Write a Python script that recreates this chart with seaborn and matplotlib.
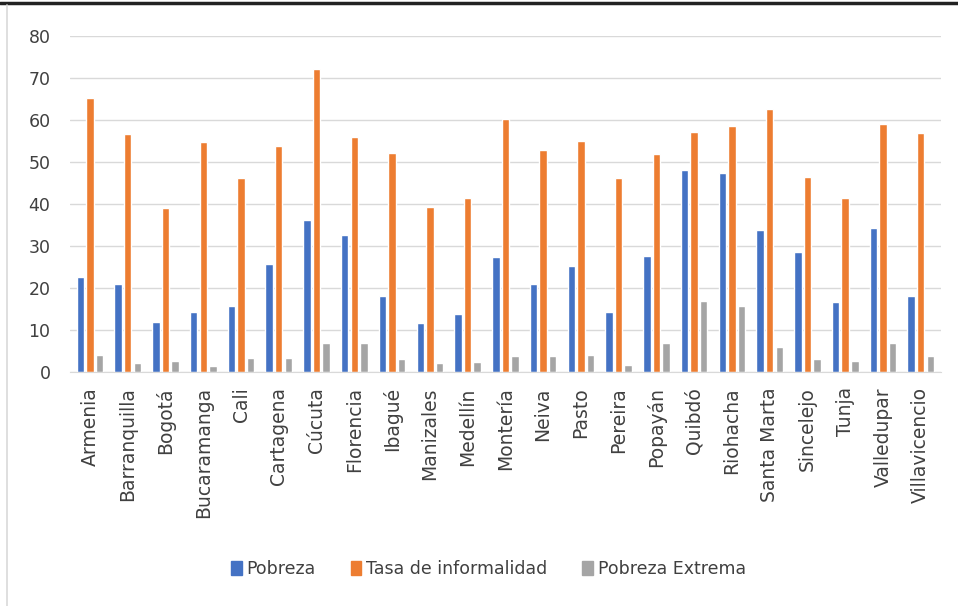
import pandas as pd
import numpy as np
import seaborn as sns
import matplotlib.pyplot as plt
from matplotlib.lines import Line2D

#Data
ciudades = ["Armenia", "Barranquilla", "Bogotá", "Bucaramanga", "Cali", "Cartagena",
            "Cúcuta", "Florencia", "Ibagué", "Manizales", "Medellín", "Montería",
            "Neiva", "Pasto", "Pereira", "Popayán", "Quibdó", "Riohacha",
            "Santa Marta", "Sincelejo", "Tunja", "Valledupar", "Villavicencio"]
pobreza = [22.5, 21.0, 12.0, 14.4, 15.8, 25.7, 36.2, 32.5, 18.2, 11.7, 13.7, 27.3,
           21.0, 25.3, 14.4, 27.7, 48.1, 47.3, 33.8, 28.6, 16.6, 34.2, 18.2]
informalidad = [65.3, 56.6, 39.0, 54.8, 46.1, 53.8, 72.1, 55.8, 52.1, 39.2, 41.3, 60.2,
                52.9, 54.9, 46.1, 51.8, 57.2, 58.6, 62.5, 46.5, 41.3, 58.9, 56.8]
pobreza_extrema = [4.0, 2.1, 2.6, 1.4, 3.4, 3.4, 6.8, 6.8, 3.0, 2.1, 2.5, 3.8,
                   3.8, 4.0, 1.7, 6.8, 16.8, 15.8, 6.0, 3.0, 2.6, 6.8, 3.8]
series = ["Pobreza", "Tasa de informalidad", "Pobreza Extrema"]
colores = ["#4472C4", "#ED7D31", "#A5A5A5"]

#Long format for seaborn
df = pd.DataFrame({"Ciudad": ciudades, series[0]: pobreza,
                   series[1]: informalidad, series[2]: pobreza_extrema})
df = df.melt(id_vars="Ciudad", var_name="Serie", value_name="Valor")

sns.set_style("white")
plt.rcParams["font.family"] = ["DejaVu Sans"]

fig = plt.figure(figsize=(9.58, 6.06), dpi=100)
ax = fig.add_axes([0.073, 0.386, 0.909, 0.555])

sns.barplot(data=df, x="Ciudad", y="Valor", hue="Serie", hue_order=series,
            palette=colores, width=0.76, gap=0.22, saturation=1, ax=ax,
            legend=False, errorbar=None)

ax.set_ylim(0, 80)
ax.set_xlim(-0.53, len(ciudades) - 0.47)
ax.set_yticks(np.arange(0, 81, 10))
ax.yaxis.grid(True, color="#d9d9d9", linewidth=1)
ax.set_axisbelow(True)
for s in ["top", "right", "left"]:
    ax.spines[s].set_visible(False)
ax.spines["bottom"].set_color("#d9d9d9")
ax.set_xlabel("")
ax.set_ylabel("")
ax.tick_params(axis="y", labelsize=12.5, colors="#404040", length=0, pad=14)
ax.tick_params(axis="x", labelsize=13.5, colors="#404040", length=0, pad=11)
plt.setp(ax.get_xticklabels(), rotation=90)

#Legend below the chart
handles = [plt.Rectangle((0, 0), 1, 1, color=c) for c in colores]
fig.legend(handles, series, loc="center", bbox_to_anchor=(0.51, 0.061), ncol=3,
           frameon=False, fontsize=12.5, handlelength=0.6, handleheight=0.8,
           handletextpad=0.3, columnspacing=2.0, labelcolor="#404040")

#Frame lines of the original screenshot
fig.add_artist(Line2D([0, 1], [1 - 3 / 606, 1 - 3 / 606], color="#222222", linewidth=2.5))
fig.add_artist(Line2D([7 / 958, 7 / 958], [0, 1 - 5 / 606], color="#d9d9d9", linewidth=1.2))

fig.savefig("out.png", dpi=100)
